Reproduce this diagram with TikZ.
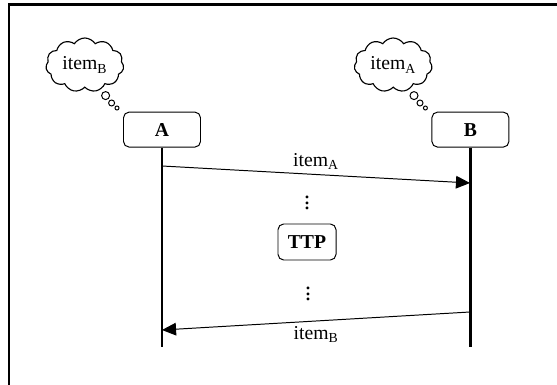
\documentclass[tikz,border=0pt]{standalone}
\usepackage{fontspec}
\setmainfont{Liberation Serif}
\usetikzlibrary{positioning,shapes.symbols,arrows.meta}

\begin{document}
\begin{tikzpicture}
	[   party/.style={draw=black,line width=0.7pt,rounded corners=4pt,minimum width=19.25mm,minimum height=8.75mm,font=\fontsize{14}{16}\selectfont\bfseries},
	    thought/.style={cloud,draw=black,line width=0.8pt,cloud puffs=11,cloud puff arc=115,aspect=1.45,minimum width=19.5mm,minimum height=13.5mm,inner sep=0pt},
	    bubble/.style={circle,draw=black,line width=0.7pt,inner sep=0pt,minimum size=#1},
	    font=\fontsize{14}{16}\selectfont
	]
	\tikzset{lifeline/.style={draw,line width=2.1pt},
	         message/.style={draw,line width=0.7pt,-{Triangle[length=10pt,width=9pt]}},
	         pause/.style={font=\fontsize{17}{20}\selectfont,inner sep=0pt}}
	\useasboundingbox (0,0) rectangle (13.925,-9.625);
	\draw[line width=1.6pt] (0.23,-9.625) -- (0.23,-0.115) -- (13.925,-0.115);
	
	% each party thinks of the other one's item
	\foreach \p/\x/\q in {A/4.05/B, B/11.76/A}
	{
		\node[party] (\p) at (\x,-3.24) {\p};
		\coordinate (\p-end) at (\x,-8.675);
		\path[lifeline] (\p) -- (\p-end);
		\node[thought] (think-\p) at ({\x-1.93},-1.625) {item\textsubscript{\q}};
		\node[bubble=2mm] (bub1-\p) at ({\x-1.41},-2.39) {};
		\node[bubble=1.5mm] (bub2-\p) at ({\x-1.26},-2.575) {};
		\node[bubble=1mm] (bub3-\p) at ({\x-1.125},-2.7) {};
	}
	
	\coordinate (A-send) at (4.05,-4.15);
	\coordinate (B-get) at (11.75,-4.575);
	\coordinate (B-send) at (11.75,-7.8);
	\coordinate (A-get) at (4.05,-8.25);
	
	\path[message] (A-send) -- node[above] (msg-A) {item\textsubscript{A}} (B-get);
	\path[message] (B-send) -- node[below] (msg-B) {item\textsubscript{B}} (A-get);
	
	\node[pause] (dots-1) at (7.675,-4.975) {$\vdots$};
	\node[party,minimum width=14.5mm,minimum height=9mm] (ttp) at (7.675,-6.05) {TTP};
	\node[pause] (dots-2) at (7.7,-7.25) {$\vdots$};
\end{tikzpicture}
\end{document}
